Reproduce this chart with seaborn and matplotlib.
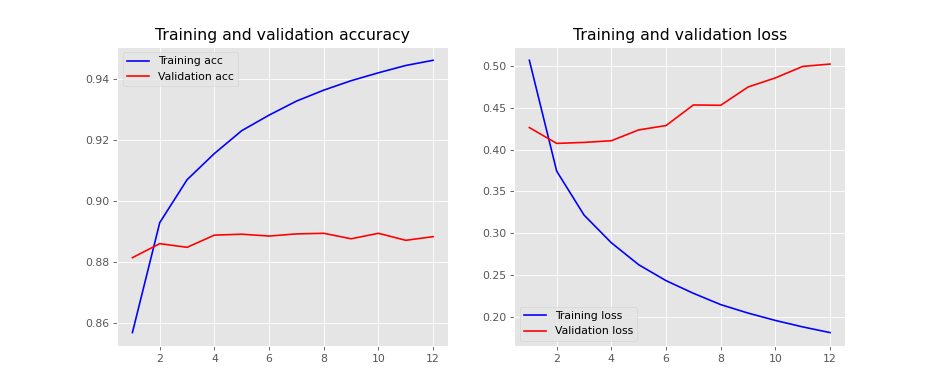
import matplotlib
matplotlib.use("Agg")
import matplotlib.pyplot as plt
import seaborn as sns

epochs = [1, 2, 3, 4, 5, 6, 7, 8, 9, 10, 11, 12]
train_acc = [0.8567, 0.8928, 0.9069, 0.9155, 0.9230, 0.9281, 0.9327, 0.9363, 0.9394, 0.9420, 0.9444, 0.9461]
val_acc = [0.8813, 0.8859, 0.8847, 0.8887, 0.8890, 0.8884, 0.8891, 0.8893, 0.8875, 0.8893, 0.8870, 0.8882]
train_loss = [0.5065, 0.3742, 0.3218, 0.2887, 0.2625, 0.2435, 0.2284, 0.2149, 0.2048, 0.1960, 0.1883, 0.1815]
val_loss = [0.4262, 0.4073, 0.4085, 0.4105, 0.4234, 0.4286, 0.4532, 0.4528, 0.4746, 0.4855, 0.4992, 0.5020]

plt.style.use("ggplot")
DPI = 78.5
fig = plt.figure(figsize=(939 / DPI, 389 / DPI), dpi=DPI)

ax1 = fig.add_subplot(1, 2, 1)
sns.lineplot(x=epochs, y=train_acc, color="b", label="Training acc", ax=ax1)
sns.lineplot(x=epochs, y=val_acc, color="r", label="Validation acc", ax=ax1)
ax1.set_title("Training and validation accuracy")
ax1.legend(loc="upper left")

ax2 = fig.add_subplot(1, 2, 2)
sns.lineplot(x=epochs, y=train_loss, color="b", label="Training loss", ax=ax2)
sns.lineplot(x=epochs, y=val_loss, color="r", label="Validation loss", ax=ax2)
ax2.set_title("Training and validation loss")
ax2.legend(loc="lower left")

fig.savefig("out.png", dpi=DPI)
